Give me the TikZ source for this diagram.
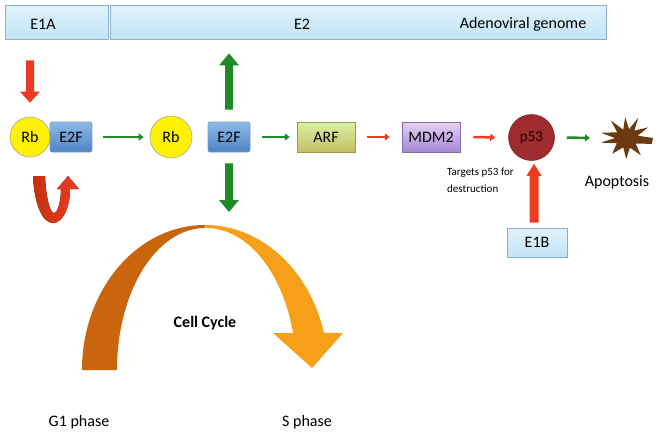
\documentclass[tikz,border=0pt]{standalone}
\usepackage{fontspec}
\setmainfont{Carlito}
\usetikzlibrary{arrows.meta,calc,shapes.geometric}
\definecolor{lbtop}{HTML}{E0F3FC}
\definecolor{lbbot}{HTML}{C2E4F6}
\definecolor{boxedge}{HTML}{8DB0C8}
\definecolor{rbyel}{HTML}{FFF200}
\definecolor{etop}{HTML}{8FB9E6}
\definecolor{ebot}{HTML}{4E84C4}
\definecolor{arftop}{HTML}{D8F2A2}
\definecolor{arfbot}{HTML}{C6BE66}
\definecolor{mdtop}{HTML}{E6D2F4}
\definecolor{mdbot}{HTML}{A486D6}
\definecolor{pff}{HTML}{9E2B2D}
\definecolor{arrred}{HTML}{EF3B22}
\definecolor{arrgreen}{HTML}{1E8B26}
\definecolor{darkor}{HTML}{C9650C}
\definecolor{lightor}{HTML}{F6A01A}
\definecolor{starbrown}{HTML}{6B3A10}
\definecolor{udark}{HTML}{C4300E}
% block arrow: #1 colour, #2 start, #3 tip, #4 half shaft, #5 half head, #6 head length
\newcommand{\myblockarrow}[6]{%
  \coordinate (baB) at ($(#3)!#6!(#2)$);
  \fill[#1] ($(#2)!#4!90:(#3)$) -- ($(baB)!#4!-90:(#2)$) -- ($(baB)!#5!-90:(#2)$) -- (#3)
    -- ($(baB)!#5!90:(#2)$) -- ($(baB)!#4!90:(#2)$) -- ($(#2)!#4!-90:(#3)$) -- cycle;}
\begin{document}
\begin{tikzpicture}[x=1pt,y=1pt,
  lbl/.style={font=\fontsize{16}{19}\selectfont, text=black, inner sep=0pt},
  bluebox/.style={draw=boxedge, line width=0.8pt, top color=lbtop, bottom color=lbbot, inner sep=0pt},
  rbnode/.style={circle, draw=gray!70, line width=0.6pt, fill=rbyel, minimum size=40pt, inner sep=0pt, font=\fontsize{16}{19}\selectfont},
  e2fnode/.style={rounded corners=2pt, draw=ebot!80, line width=0.6pt, top color=etop, bottom color=ebot, minimum width=42pt, minimum height=30pt, inner sep=0pt, font=\fontsize{16}{19}\selectfont},
  thingreen/.style={draw=arrgreen, line width=2.5pt, -{Triangle[width=7pt,length=5pt]}},
  thinred/.style={draw=arrred, line width=2.5pt, -{Triangle[width=7pt,length=5pt]}}
]
\useasboundingbox (0,0) rectangle (658,-434);

% genome boxes
\node[bluebox, minimum width=103pt, minimum height=34pt] (e1a) at (56.5,-22) {};
\node[lbl] at (43,-24) {E1A};
\node[bluebox, minimum width=496pt, minimum height=34pt] (e2) at (358,-22) {};
\node[lbl] at (302,-24) {E2};
\node[lbl] at (523,-24) {Adenoviral genome};

% pathway nodes
\node[rbnode] (rb1) at (30,-137) {Rb};
\node[e2fnode] (e2f1) at (71,-137) {E2F};
\node[rbnode, minimum size=42pt] (rb2) at (171,-137) {Rb};
\node[e2fnode] (e2f2) at (229,-137) {E2F};
\node[draw=arfbot!80!black, line width=0.5pt, minimum width=58pt, minimum height=30pt, inner sep=0pt,
      top color=arftop, bottom color=arfbot, middle color=arftop!50!arfbot, font=\fontsize{16}{19}\selectfont] (arf) at (326,-137) {ARF};
\node[draw=mdbot!80!black, line width=0.5pt, minimum width=58pt, minimum height=30pt, inner sep=0pt,
      top color=mdtop, bottom color=mdbot, font=\fontsize{16}{19}\selectfont] (mdm2) at (431,-137) {MDM2};
\node[circle, fill=pff, draw=pff!80!black, line width=0.5pt, minimum size=46pt, inner sep=0pt,
      font=\fontsize{15}{18}\selectfont, text=black!85!pff] (p53) at (531.5,-137.5) {p53};
\node[bluebox, minimum width=60pt, minimum height=29pt, font=\fontsize{16}{19}\selectfont] (e1b) at (537,-242.5) {E1B};

% starburst (apoptosis)
\coordinate (star) at (627,-138);
\coordinate (starW) at (600,-138);
\fill[starbrown, shift={(627,-138)}]
  (0:26 and 20) -- (15:11 and 9) -- (32:25 and 20) -- (48:11 and 10) -- (62:24 and 23)
  -- (78:10 and 9) -- (95:21 and 21) -- (112:10 and 9) -- (128:26 and 22) -- (145:12 and 10)
  -- (165:27 and 20) -- (180:12 and 10) -- (195:27 and 18) -- (212:12 and 10) -- (232:24 and 20)
  -- (250:11 and 10) -- (268:21 and 21) -- (285:11 and 10) -- (305:24 and 21) -- (322:11 and 9)
  -- (342:26 and 19) -- cycle;
\node[lbl] (apop) at (617,-182) {Apoptosis};

\node[font=\fontsize{11}{17}\selectfont, align=left, anchor=north west, inner sep=0pt] (tgt) at (447,-168) {Targets p53 for\\destruction};

% cell cycle arch
\coordinate (archtop) at (205,-225);
\fill[darkor] (82,-370) arc[start angle=180, end angle=90, x radius=123, y radius=145]
  -- (205,-228) arc[start angle=90, end angle=180, x radius=88, y radius=142] -- cycle;
\fill[lightor] (archtop) arc[start angle=90, end angle=14.8, x radius=123, y radius=145]
  -- (343,-333) -- (312,-368) -- (273,-333) -- (293,-333)
  arc[start angle=15.1, end angle=90, x radius=90, y radius=142] -- cycle;
\node[font=\bfseries\fontsize{16}{19}\selectfont, inner sep=0pt] (cc) at (205,-323) {Cell Cycle};
\node[lbl] (g1) at (79,-422) {G1 phase};
\node[lbl] (sph) at (307,-422) {S phase};

% U-shaped red arrow
\fill[left color=udark, right color=arrred]
  (33,-176) -- (45,-176) .. controls (46,-198) and (50,-213) .. (54,-213)
  .. controls (58,-213) and (61,-200) .. (61,-189) -- (57,-189) -- (68,-176) -- (79,-189) -- (70,-189)
  .. controls (70,-207) and (63,-223) .. (53,-223) .. controls (41,-223) and (34,-200) .. (33,-176) -- cycle;

% block arrows
\coordinate (e1aS) at ($(rb1 |- e1a.south)+(0,-21)$);
\coordinate (rb1T) at ($(rb1.north)+(0,14)$);
\myblockarrow{arrred}{e1aS}{rb1T}{4pt}{10pt}{11pt}
\coordinate (upS) at ($(e2f2.north)+(0,12)$);
\coordinate (upT) at ($(e2f2 |- e2.south)+(0,-14)$);
\myblockarrow{arrgreen}{upS}{upT}{4pt}{10pt}{12pt}
\coordinate (dnS) at ($(e2f2.south)+(0,-11)$);
\coordinate (dnT) at ($(e2f2 |- archtop)+(0,13)$);
\myblockarrow{arrgreen}{dnS}{dnT}{4pt}{10pt}{12pt}
\coordinate (e1bS) at ($(e1b.north)+(-3,5)$);
\coordinate (p53T) at ($(e1bS |- p53.south)+(0,-3)$);
\myblockarrow{arrred}{e1bS}{p53T}{4.5pt}{7.5pt}{12pt}

% thin arrows
\draw[thingreen, shorten <=11pt, shorten >=6pt] (e2f1.east) -- (rb2.west);
\draw[thingreen, shorten <=12pt, shorten >=7pt] (e2f2.east) -- (arf.west);
\draw[thinred, shorten <=12pt, shorten >=12pt] (arf.east) -- (mdm2.west);
\draw[thinred, shorten <=13pt, shorten >=13pt] (mdm2.east) -- (p53.west);
\draw[thingreen, shorten <=12pt, shorten >=10pt] (p53.east) -- (starW);
\end{tikzpicture}
\end{document}
